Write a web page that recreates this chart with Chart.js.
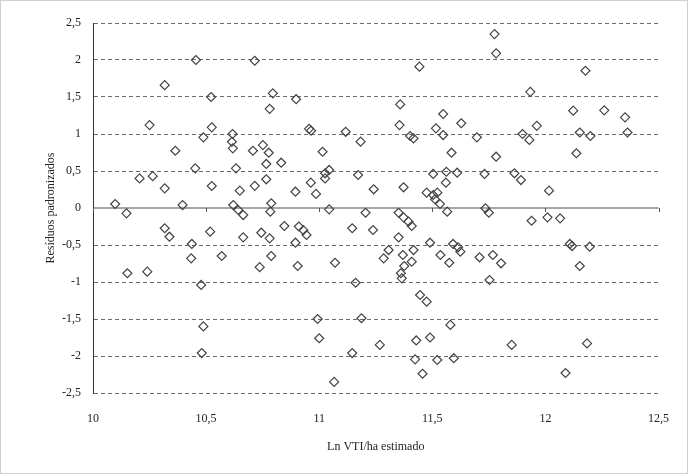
<!DOCTYPE html>
<html>
<head>
<meta charset="utf-8">
<script src="https://cdn.jsdelivr.net/npm/chart.js@4/dist/chart.umd.min.js"></script>
<style>
  html, body { margin: 0; padding: 0; background: #fff; }
  #wrap { width: 688px; height: 474px; position: relative; }
</style>
</head>
<body>
<div id="wrap"><canvas id="c" width="688" height="474"></canvas></div>
<script>
const xValues = [
  10.455,10.317,10.522,10.25,10.525,10.488,10.715,10.795,10.781,10.898,
  10.617,10.614,10.618,10.964,10.955,11.117,11.183,10.751,11.775,11.782,
  11.443,11.358,11.548,11.355,11.628,11.516,11.548,11.402,11.417,11.697,
  12.177,11.933,12.123,12.26,12.352,11.962,11.899,11.929,12.152,12.199,
  12.363,10.364,10.452,10.206,10.264,10.317,10.525,10.098,10.148,10.396,
  10.317,10.338,10.518,10.437,10.434,10.569,10.152,10.24,10.707,10.777,
  11.015,10.766,10.832,10.632,11.026,11.044,11.026,11.172,10.649,10.715,
  10.766,10.895,10.963,10.986,10.62,10.642,10.664,10.788,10.784,11.044,
  11.205,10.846,10.91,10.93,10.944,11.146,10.664,10.744,10.781,10.895,
  10.788,10.737,10.905,11.07,11.585,11.782,11.504,11.562,11.61,11.56,
  11.731,11.863,11.892,11.241,11.373,11.475,11.504,11.522,11.512,11.534,
  11.566,11.351,11.373,11.395,11.409,11.735,11.75,11.238,11.351,11.49,
  11.592,11.614,11.624,11.307,11.285,11.37,11.417,11.409,11.376,11.536,
  11.575,11.709,11.768,11.804,11.361,12.137,12.016,11.939,12.009,12.065,
  12.108,12.118,12.196,12.152,10.478,10.488,10.481,11.161,10.993,11.187,
  11.0,11.146,11.066,11.365,11.753,11.446,11.475,11.58,11.268,11.429,
  11.49,11.851,11.424,11.522,11.595,11.457,12.184,12.089
];
const yValues = [
  2.00,1.66,1.50,1.12,1.09,0.955,1.99,1.55,1.34,1.47,
  1.00,0.895,0.806,1.045,1.07,1.03,0.896,0.85,2.35,2.09,
  1.91,1.40,1.27,1.12,1.145,1.077,0.986,0.973,0.94,0.955,
  1.855,1.57,1.315,1.32,1.225,1.11,1.00,0.92,1.02,0.973,
  1.02,0.774,0.536,0.40,0.43,0.266,0.297,0.054,-0.072,0.04,
  -0.274,-0.388,-0.32,-0.486,-0.68,-0.649,-0.882,-0.86,0.774,0.747,
  0.76,0.595,0.612,0.536,0.469,0.514,0.40,0.446,0.234,0.30,
  0.388,0.22,0.342,0.19,0.04,-0.027,-0.095,0.064,-0.05,-0.018,
  -0.064,-0.243,-0.25,-0.30,-0.365,-0.274,-0.396,-0.334,-0.41,-0.469,
  -0.649,-0.80,-0.784,-0.74,0.747,0.693,0.46,0.49,0.477,0.342,
  0.46,0.469,0.378,0.253,0.28,0.207,0.176,0.207,0.118,0.054,
  -0.05,-0.064,-0.126,-0.185,-0.243,-0.004,-0.064,-0.297,-0.396,-0.469,
  -0.486,-0.531,-0.59,-0.568,-0.68,-0.635,-0.568,-0.726,-0.784,-0.635,
  -0.74,-0.666,-0.635,-0.747,-0.882,0.74,0.234,-0.172,-0.126,-0.14,
  -0.486,-0.514,-0.523,-0.784,-1.04,-1.60,-1.96,-1.01,-1.50,-1.49,
  -1.76,-1.96,-2.35,-0.95,-0.973,-1.176,-1.266,-1.58,-1.85,-1.79,
  -1.75,-1.85,-2.045,-2.054,-2.03,-2.24,-1.83,-2.23
];
const xTickValues = [10, 10.5, 11, 11.5, 12, 12.5];
const yTickValues = [-2.5, -2, -1.5, -1, -0.5, 0, 0.5, 1, 1.5, 2, 2.5];
const xTitle = 'Ln VTI/ha estimado';
const yTitle = 'Resíduos padronizados';

const points = xValues.map((x, i) => ({ x: x, y: yValues[i] }));
const fmt = v => String(v).replace('.', ',');
const FONT = "'Liberation Serif', 'Times New Roman', serif";

const extras = {
  id: 'extras',
  afterDatasetsDraw(chart) {
    const ctx = chart.ctx;
    const xs = chart.scales.x, ys = chart.scales.y;
    const y0 = ys.getPixelForValue(0);
    ctx.save();
    ctx.strokeStyle = '#555';
    ctx.lineWidth = 1;
    xTickValues.forEach(v => {
      const px = Math.round(xs.getPixelForValue(v)) + 0.5;
      ctx.beginPath();
      ctx.moveTo(px, y0);
      ctx.lineTo(px, y0 + 4);
      ctx.stroke();
    });
    ctx.restore();
  },
  afterDraw(chart) {
    const ctx = chart.ctx;
    ctx.save();
    ctx.strokeStyle = '#d0d0d0';
    ctx.lineWidth = 1;
    ctx.strokeRect(0.5, 0.5, chart.width - 1, chart.height - 1);
    ctx.restore();
  }
};

new Chart(document.getElementById('c'), {
  type: 'scatter',
  data: {
    datasets: [{
      data: points,
      pointStyle: 'rectRot',
      pointRadius: 4.5,
      pointHoverRadius: 4.5,
      pointBorderWidth: 1.2,
      borderColor: '#444',
      backgroundColor: 'rgba(255,255,255,0)'
    }]
  },
  options: {
    responsive: false,
    animation: false,
    events: [],
    layout: { padding: { left: 0, top: 23, right: 28, bottom: 0 } },
    plugins: { legend: { display: false }, tooltip: { enabled: false } },
    scales: {
      x: {
        type: 'linear',
        min: 10, max: 12.5,
        afterBuildTicks: s => { s.ticks = xTickValues.map(v => ({ value: v })); },
        afterFit: s => { s.height = 81; },
        grid: { display: false, drawTicks: false },
        border: { display: false },
        ticks: {
          padding: 19,
          color: '#222',
          font: { family: FONT, size: 12 },
          maxRotation: 0,
          callback: v => fmt(v)
        },
        title: {
          display: true,
          text: xTitle,
          color: '#222',
          font: { family: FONT, size: 12 },
          padding: { top: 0, bottom: 20 }
        }
      },
      y: {
        type: 'linear',
        min: -2.5, max: 2.5,
        afterBuildTicks: s => { s.ticks = yTickValues.map(v => ({ value: v })); },
        afterFit: s => { s.width = 93; },
        grid: {
          drawTicks: false,
          color: c => (c.tick && c.tick.value === 0) ? '#a6a6a6' : '#6a6a6a',
          lineWidth: c => (c.tick && c.tick.value === 0) ? 2 : 1
        },
        border: {
          display: true,
          color: '#333',
          width: 1,
          dash: c => (c.tick && c.tick.value === 0) ? [] : [4, 3]
        },
        ticks: {
          padding: 12,
          color: '#222',
          font: { family: FONT, size: 12 },
          callback: v => fmt(v)
        },
        title: {
          display: true,
          text: yTitle,
          color: '#222',
          font: { family: FONT, size: 12 },
          padding: { top: 44, bottom: 0 }
        }
      }
    }
  },
  plugins: [extras]
});
</script>
</body>
</html>
